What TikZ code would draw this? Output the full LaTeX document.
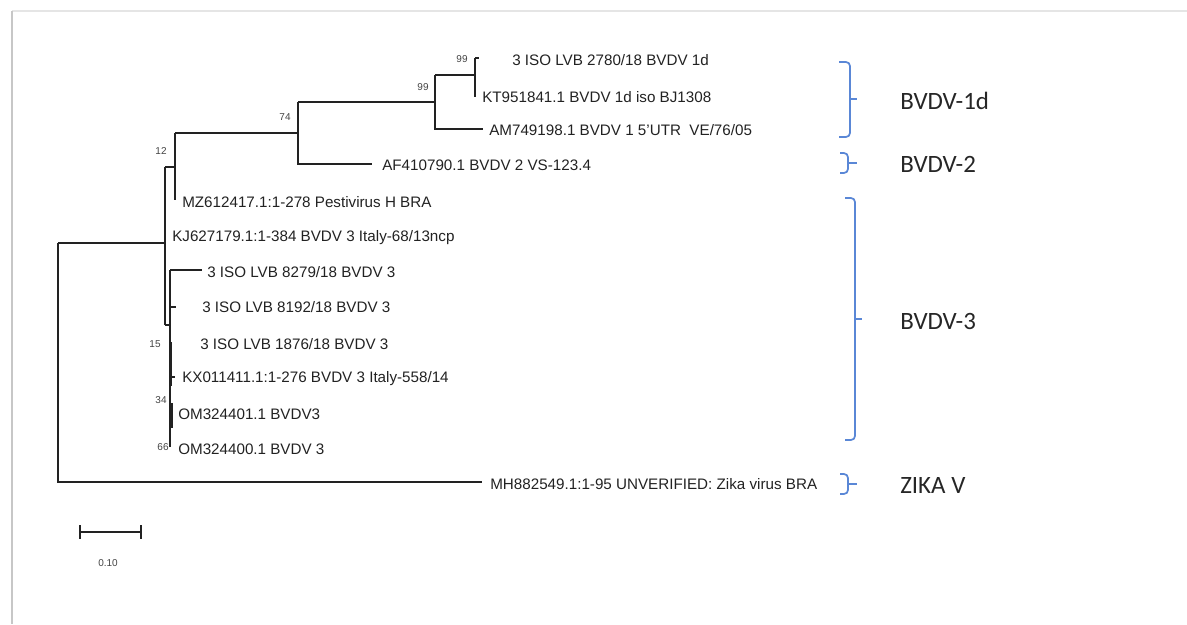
\documentclass[tikz,border=0pt]{standalone}
\usepackage{fontspec}
\setmainfont{Liberation Sans}
\newfontfamily\calfont{Carlito}
\definecolor{brk}{HTML}{5A87D6}
\definecolor{treec}{HTML}{222222}
\begin{document}
\begin{tikzpicture}[x=0.75pt,y=-0.75pt,
  br/.style={draw=treec,line width=1.3pt},
  thk/.style={draw=treec,line width=2.2pt},
  tip/.style={anchor=west,inner sep=0pt,text=treec,font=\fontsize{11.4}{13}\selectfont},
  boot/.style={inner sep=0pt,text=treec!85,font=\fontsize{7.5}{8}\selectfont},
  brace/.style={draw=brk,line width=1.3pt,rounded corners=3pt},
  bt/.style={draw=brk,line width=1.3pt},
  grp/.style={anchor=west,inner sep=0pt,text=black!85,font=\calfont\fontsize{18.7}{22}\selectfont}]
\useasboundingbox (0,0) rectangle (1187,624);
% page frame shadow
\draw[black!10,line width=1.2pt] (12,11) -- (1187,11);
\draw[black!22,line width=2.2pt] (12,11) -- (12,624);
% internal nodes
\coordinate (R) at (58,243);
\coordinate (nA) at (165,243);
\coordinate (n12) at (175,167);
\coordinate (n74) at (298,133);
\coordinate (n99a) at (435,102);
\coordinate (n99b) at (475,75);
\coordinate (nB) at (170,325);
% tips
\coordinate (e2780) at (479,58);
\coordinate (eKT) at (475,97);
\coordinate (eAM) at (483,129);
\coordinate (eAF) at (372,164);
\coordinate (eMZ) at (175,200);
\coordinate (eKJ) at (166,237);
\coordinate (e8279) at (202,270);
\coordinate (e8192) at (176,307);
\coordinate (eKX) at (175,377);
\coordinate (eZika) at (482,482);
% tree branches
\draw[br] (R) -- (nA);
\draw[br] (R) -- (R |- eZika) -- (eZika);
\draw[br] (nA |- n12) -- (nA |- nB);
\draw[br] (nA |- n12) -- (n12);
\draw[br] (nA |- eKJ) -- (eKJ);
\draw[br] (nA |- nB) -- (nB);
\draw[br] (n12 |- n74) -- (n12 |- eMZ);
\draw[br] (n12 |- n74) -- (n74);
\draw[br] (n74 |- n99a) -- (n74 |- eAF) -- (eAF);
\draw[br] (n74 |- n99a) -- (n99a);
\draw[br] (n99a |- n99b) -- (n99a |- eAM) -- (eAM);
\draw[br] (n99a |- n99b) -- (n99b);
\draw[br] (n99b |- e2780) -- (n99b |- eKT);
\draw[br] (n99b |- e2780) -- (e2780);
\draw[br] (nB |- e8279) -- (170,447);
\draw[br] (nB |- e8279) -- (e8279);
\draw[br] (nB |- e8192) -- (e8192);
\coordinate (n15a) at (171,342);
\coordinate (n15b) at (171,386);
\draw[thk] (n15a) -- (n15b);
\draw[br] (n15a |- eKX) -- (eKX);
\coordinate (n34a) at (172,403);
\coordinate (n34b) at (172,428);
\draw[thk] (n34a) -- (n34b);
% tip labels
\node[tip] (t2780) at (512,60) {3 ISO LVB 2780/18 BVDV 1d};
\node[tip] (tKT) at (482,97) {KT951841.1 BVDV 1d iso BJ1308};
\node[tip] (tAM) at (489,130) {AM749198.1 BVDV 1 5'UTR\ \ VE/76/05};
\node[tip] (tAF) at (382,165) {AF410790.1 BVDV 2 VS-123.4};
\node[tip] (tMZ) at (182,202) {MZ612417.1:1-278 Pestivirus H BRA};
\node[tip] (tKJ) at (172,238) {KJ627179.1:1-384 BVDV 3 Italy-68/13ncp};
\node[tip] (t8279) at (207,272) {3 ISO LVB 8279/18 BVDV 3};
\node[tip] (t8192) at (202,307) {3 ISO LVB 8192/18 BVDV 3};
\node[tip] (t1876) at (200,344) {3 ISO LVB 1876/18 BVDV 3};
\node[tip] (tKX) at (182,379) {KX011411.1:1-276 BVDV 3 Italy-558/14};
\node[tip] (tOM1) at (178,414) {OM324401.1 BVDV3};
\node[tip] (tOM0) at (178,449) {OM324400.1 BVDV 3};
\node[tip] (tZika) at (490,484) {MH882549.1:1-95 UNVERIFIED: Zika virus BRA};
% bootstrap values
\node[boot] (b1) at (462,59) {99};
\node[boot] (b2) at (423,87) {99};
\node[boot] (b3) at (285,117) {74};
\node[boot] (b4) at (161,151) {12};
\node[boot] (b5) at (155,344) {15};
\node[boot] (b6) at (161,400) {34};
\node[boot] (b7) at (163,447) {66};
% scale bar
\coordinate (s1) at (80,532);
\coordinate (s2) at (141,532);
\draw[br,line width=1.1pt] (s1) -- (s2);
\draw[br,line width=1.1pt] ([yshift=-5]s1) -- ([yshift=5]s1);
\draw[br,line width=1.1pt] ([yshift=-5]s2) -- ([yshift=5]s2);
\node[boot] (sc) at (108,563) {0.10};
% group braces
\draw[brace] (839,62) -- (850,62) -- (850,137) -- (839,137);
\draw[bt] (850,99) -- (857,99);
\draw[brace] (840,153) -- (848,153) -- (848,173) -- (840,173);
\draw[bt] (848,163) -- (857,163);
\draw[brace] (845,198) -- (855,198) -- (855,440) -- (845,440);
\draw[bt] (855,319) -- (862,319);
\draw[brace] (840,474) -- (848,474) -- (848,494) -- (840,494);
\draw[bt] (848,484) -- (857,484);
\node[grp] (g1) at (900,101) {BVDV-1d};
\node[grp] (g2) at (900,164) {BVDV-2};
\node[grp] (g3) at (900,321) {BVDV-3};
\node[grp] (g4) at (900,485) {ZIKA V};
\end{tikzpicture}
\end{document}
